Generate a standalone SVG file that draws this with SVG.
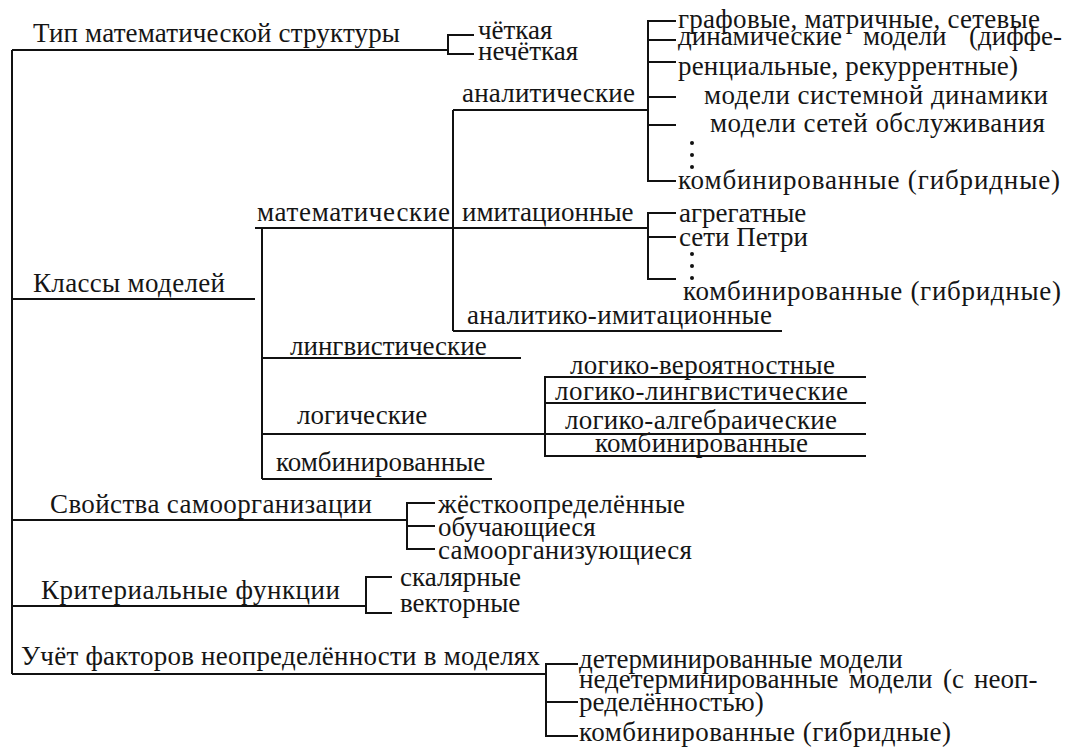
<svg xmlns="http://www.w3.org/2000/svg" width="1074" height="747" viewBox="0 0 1074 747">
<style>
.t{font-family:"Liberation Serif","Times New Roman",serif;font-size:27px;fill:#151515}
.l{stroke:#111;stroke-width:2;fill:none}
.d{fill:#111}
</style>
<rect width="1074" height="747" fill="#fff"/>
<g id="connectors" class="l">
<path d="M12 50V674"/>
<path d="M12 50H448"/>
<path d="M474 35H448V54H474"/>
<path d="M453 110H648M453 110V331"/>
<path d="M676 21H648V181H676M648 40H676M648 62H676M648 97H676M648 125H676"/>
<path d="M255 228H648"/>
<path d="M676 213H648V279H676M648 237H676"/>
<path d="M12 299H255"/>
<path d="M262 228V479"/>
<path d="M453 331H782"/>
<path d="M262 358H521"/>
<path d="M262 434H866"/>
<path d="M866 377H545V456H866M545 403H866"/>
<path d="M262 479H492"/>
<path d="M12 520H407M435 503H407V549H435M407 526H435"/>
<path d="M12 606H366M392 577H366V613H392"/>
<path d="M12 674H546M578 664H546V736H578M546 702H578"/>
</g>
<g id="n-tip"><text class="t" x="33" y="42" textLength="367" lengthAdjust="spacing">Тип математической структуры</text></g>
<g id="n-chetkaya"><text class="t" x="478" y="39">чёткая</text></g>
<g id="n-nechetkaya"><text class="t" x="478" y="60">нечёткая</text></g>
<g id="n-analit"><text class="t" x="462" y="102" textLength="173" lengthAdjust="spacing">аналитические</text></g>
<g id="n-graf"><text class="t" x="678" y="28" textLength="362" lengthAdjust="spacing">графовые, матричные, сетевые</text></g>
<g id="n-dinam"><text class="t" y="45"><tspan x="678">динамические</tspan><tspan x="863">модели</tspan><tspan x="969">(диффе-</tspan></text>
<text class="t" x="678" y="75" textLength="340" lengthAdjust="spacing">ренциальные, рекуррентные)</text></g>
<g id="n-sysdyn"><text class="t" x="704" y="104" textLength="344" lengthAdjust="spacing">модели системной динамики</text></g>
<g id="n-queue"><text class="t" x="710" y="132" textLength="335" lengthAdjust="spacing">модели сетей обслуживания</text></g>
<g id="n-dots1" class="d"><circle cx="692" cy="143" r="2"/><circle cx="692" cy="155" r="2"/><circle cx="692" cy="167" r="2"/></g>
<g id="n-komb1"><text class="t" x="678" y="189" textLength="382" lengthAdjust="spacing">комбинированные (гибридные)</text></g>
<g id="n-math"><text class="t" x="257" y="221" textLength="193" lengthAdjust="spacing">математические</text></g>
<g id="n-imit"><text class="t" x="462" y="221">имитационные</text></g>
<g id="n-agreg"><text class="t" x="679" y="222">агрегатные</text></g>
<g id="n-petri"><text class="t" x="679" y="246">сети Петри</text></g>
<g id="n-dots2" class="d"><circle cx="692" cy="254" r="2"/><circle cx="692" cy="266" r="2"/><circle cx="692" cy="278" r="2"/></g>
<g id="n-komb2"><text class="t" x="683" y="300" textLength="378" lengthAdjust="spacing">комбинированные (гибридные)</text></g>
<g id="n-classes"><text class="t" x="33" y="292" textLength="192" lengthAdjust="spacing">Классы моделей</text></g>
<g id="n-analimit"><text class="t" x="467" y="324" textLength="305" lengthAdjust="spacing">аналитико-имитационные</text></g>
<g id="n-ling"><text class="t" x="290" y="355">лингвистические</text></g>
<g id="n-logic"><text class="t" x="297" y="424">логические</text></g>
<g id="n-komb3"><text class="t" x="276" y="471">комбинированные</text></g>
<g id="n-lv"><text class="t" x="570" y="374" textLength="265" lengthAdjust="spacing">логико-вероятностные</text></g>
<g id="n-ll"><text class="t" x="555" y="400" textLength="293" lengthAdjust="spacing">логико-лингвистические</text></g>
<g id="n-la"><text class="t" x="565" y="429" textLength="272" lengthAdjust="spacing">логико-алгебраические</text></g>
<g id="n-lk"><text class="t" x="595" y="452" textLength="213" lengthAdjust="spacing">комбинированные</text></g>
<g id="n-self"><text class="t" x="50" y="513" textLength="322" lengthAdjust="spacing">Свойства самоорганизации</text></g>
<g id="n-hard"><text class="t" x="438" y="513" textLength="247" lengthAdjust="spacing">жёсткоопределённые</text></g>
<g id="n-learn"><text class="t" x="438" y="536">обучающиеся</text></g>
<g id="n-selforg"><text class="t" x="438" y="559" textLength="254" lengthAdjust="spacing">самоорганизующиеся</text></g>
<g id="n-crit"><text class="t" x="41" y="599" textLength="299" lengthAdjust="spacing">Критериальные функции</text></g>
<g id="n-scal"><text class="t" x="400" y="586">скалярные</text></g>
<g id="n-vect"><text class="t" x="400" y="612">векторные</text></g>
<g id="n-uncert"><text class="t" x="21" y="665" textLength="519" lengthAdjust="spacing">Учёт факторов неопределённости в моделях</text></g>
<g id="n-det"><text class="t" x="579" y="668">детерминированные модели</text></g>
<g id="n-nondet"><text class="t" y="688"><tspan x="579">недетерминированные</tspan><tspan x="849">модели</tspan><tspan x="943">(с</tspan><tspan x="974">неоп-</tspan></text>
<text class="t" x="579" y="711">ределённостью)</text></g>
<g id="n-komb4"><text class="t" x="579" y="741" textLength="372" lengthAdjust="spacing">комбинированные (гибридные)</text></g>
</svg>
